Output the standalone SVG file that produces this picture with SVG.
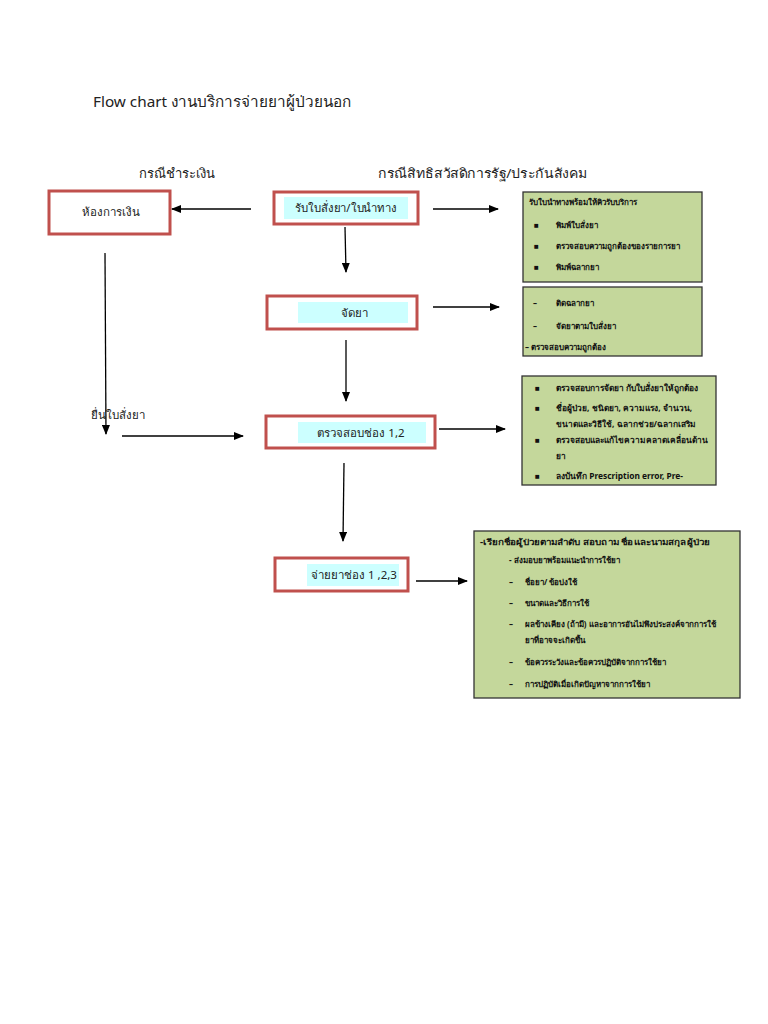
<svg xmlns="http://www.w3.org/2000/svg" width="768" height="1024" viewBox="0 0 768 1024">
<defs>
<marker id="ah" markerWidth="10" markerHeight="8" refX="9" refY="4" orient="auto" markerUnits="userSpaceOnUse">
<path d="M0,0 L10,4 L0,8 Z" fill="#000"/>
</marker>
<style>
.t{font-family:"Noto Sans","Liberation Sans",sans-serif;fill:#222}
.title{font-size:15.3px}
.hd{font-size:13px}
.lbl{font-size:11.5px}
.sm{font-size:8px;font-weight:bold;fill:#111}
.sm3{font-size:8.4px}
.node{fill:#fff;stroke:#c0504d;stroke-width:3}
.cy{fill:#ccffff}
.note{fill:#c4d79b;stroke:#333;stroke-width:1.3}
.arr{stroke:#000;stroke-width:1.3;fill:none;marker-end:url(#ah)}
</style>
</defs>
<rect width="768" height="1024" fill="#fff"/>
<text class="t title" x="93" y="107">Flow chart งานบริการจ่ายยาผู้ป่วยนอก</text>
<text class="t hd" x="177" y="178" text-anchor="middle">กรณีชำระเงิน</text>
<text class="t hd" x="378" y="178" textLength="210" lengthAdjust="spacingAndGlyphs">กรณีสิทธิสวัสดิการรัฐ/ประกันสังคม</text>

<g id="node-finance">
<rect class="node" x="49" y="191" width="121" height="43"/>
<text class="t lbl" x="111" y="216" text-anchor="middle">ห้องการเงิน</text>
</g>
<g id="node-receive">
<rect class="node" x="274" y="192" width="144" height="32"/>
<rect class="cy" x="284" y="197" width="124" height="22"/>
<text class="t lbl" x="295" y="212" textLength="102" lengthAdjust="spacingAndGlyphs">รับใบสั่งยา/ใบนำทาง</text>
</g>
<g id="node-prepare">
<rect class="node" x="267" y="296" width="150" height="33"/>
<rect class="cy" x="298" y="302" width="110" height="21"/>
<text class="t lbl" x="354" y="317" text-anchor="middle">จัดยา</text>
</g>
<g id="node-check">
<rect class="node" x="266" y="416" width="169" height="32"/>
<rect class="cy" x="298" y="422" width="128" height="21"/>
<text class="t lbl" x="361" y="437" text-anchor="middle">ตรวจสอบช่อง 1,2</text>
</g>
<g id="node-dispense">
<rect class="node" x="275" y="558" width="133" height="33"/>
<rect class="cy" x="307" y="564" width="92" height="22"/>
<text class="t lbl" x="354" y="579" text-anchor="middle">จ่ายยาช่อง 1 ,2,3</text>
</g>
<text class="t lbl" x="91" y="419">ยื่นใบสั่งยา</text>

<g id="note-1">
<rect class="note" x="523" y="192" width="179" height="90"/>
<text class="t sm" x="529" y="205">รับใบนำทางพร้อมให้คิวรับบริการ</text>
<text class="t sm" x="534" y="228">■</text><text class="t sm" x="556" y="228">พิมพ์ใบสั่งยา</text>
<text class="t sm" x="534" y="249">■</text><text class="t sm" x="556" y="249">ตรวจสอบความถูกต้องของรายการยา</text>
<text class="t sm" x="534" y="270">■</text><text class="t sm" x="556" y="270">พิมพ์ฉลากยา</text>
</g>
<g id="note-2">
<rect class="note" x="523" y="287" width="179" height="69"/>
<text class="t sm" x="533" y="306">–</text><text class="t sm" x="556" y="306">ติดฉลากยา</text>
<text class="t sm" x="533" y="329">–</text><text class="t sm" x="556" y="329">จัดยาตามใบสั่งยา</text>
<text class="t sm" x="525" y="350">– ตรวจสอบความถูกต้อง</text>
</g>
<g id="note-3">
<rect class="note" x="522" y="376" width="194" height="109"/>
<text class="t sm" x="535" y="391">■</text><text class="t sm sm3" x="556" y="391">ตรวจสอบการจัดยา กับใบสั่งยาให้ถูกต้อง</text>
<text class="t sm" x="535" y="411">■</text><text class="t sm sm3" x="556" y="411">ชื่อผู้ป่วย, ชนิดยา, ความแรง, จำนวน,</text>
<text class="t sm sm3" x="556" y="427">ขนาดและวิธีใช้, ฉลากช่วย/ฉลากเสริม</text>
<text class="t sm" x="535" y="443">■</text><text class="t sm sm3" x="556" y="443">ตรวจสอบและแก้ไขความคลาดเคลื่อนด้าน</text>
<text class="t sm sm3" x="556" y="459">ยา</text>
<text class="t sm" x="535" y="479">■</text><text class="t sm sm3" x="556" y="479">ลงบันทึก Prescription error, Pre-</text>
</g>
<g id="note-4">
<rect class="note" x="474" y="531" width="266" height="167"/>
<text class="t sm" x="480" y="545" textLength="230" lengthAdjust="spacingAndGlyphs">-เรียกชื่อผู้ป่วยตามลำดับ สอบถาม ชื่อและนามสกุลผู้ป่วย</text>
<text class="t sm" x="509" y="563">- ส่งมอบยาพร้อมแนะนำการใช้ยา</text>
<text class="t sm" x="509" y="585">–</text><text class="t sm" x="525" y="585">ชื่อยา/ ข้อบ่งใช้</text>
<text class="t sm" x="509" y="606">–</text><text class="t sm" x="525" y="606">ขนาดและวิธีการใช้</text>
<text class="t sm" x="509" y="627">–</text><text class="t sm" x="525" y="627">ผลข้างเคียง (ถ้ามี) และอาการอันไม่พึงประสงค์จากการใช้</text>
<text class="t sm" x="525" y="643">ยาที่อาจจะเกิดขึ้น</text>
<text class="t sm" x="509" y="665">–</text><text class="t sm" x="525" y="665">ข้อควรระวังและข้อควรปฏิบัติจากการใช้ยา</text>
<text class="t sm" x="509" y="687">–</text><text class="t sm" x="525" y="687">การปฏิบัติเมื่อเกิดปัญหาจากการใช้ยา</text>
</g>

<g id="connectors">
<line class="arr" x1="251" y1="209" x2="172" y2="209"/>
<line class="arr" x1="433" y1="209" x2="498" y2="209"/>
<line class="arr" x1="345" y1="227" x2="346" y2="272"/>
<line class="arr" x1="433" y1="307" x2="499" y2="307"/>
<line class="arr" x1="346" y1="340" x2="346" y2="401"/>
<line class="arr" x1="105" y1="253" x2="106" y2="434"/>
<line class="arr" x1="122" y1="436" x2="243" y2="436"/>
<line class="arr" x1="439" y1="429" x2="505" y2="429"/>
<line class="arr" x1="344" y1="463" x2="343" y2="541"/>
<line class="arr" x1="416" y1="581" x2="467" y2="581"/>
</g>
</svg>
